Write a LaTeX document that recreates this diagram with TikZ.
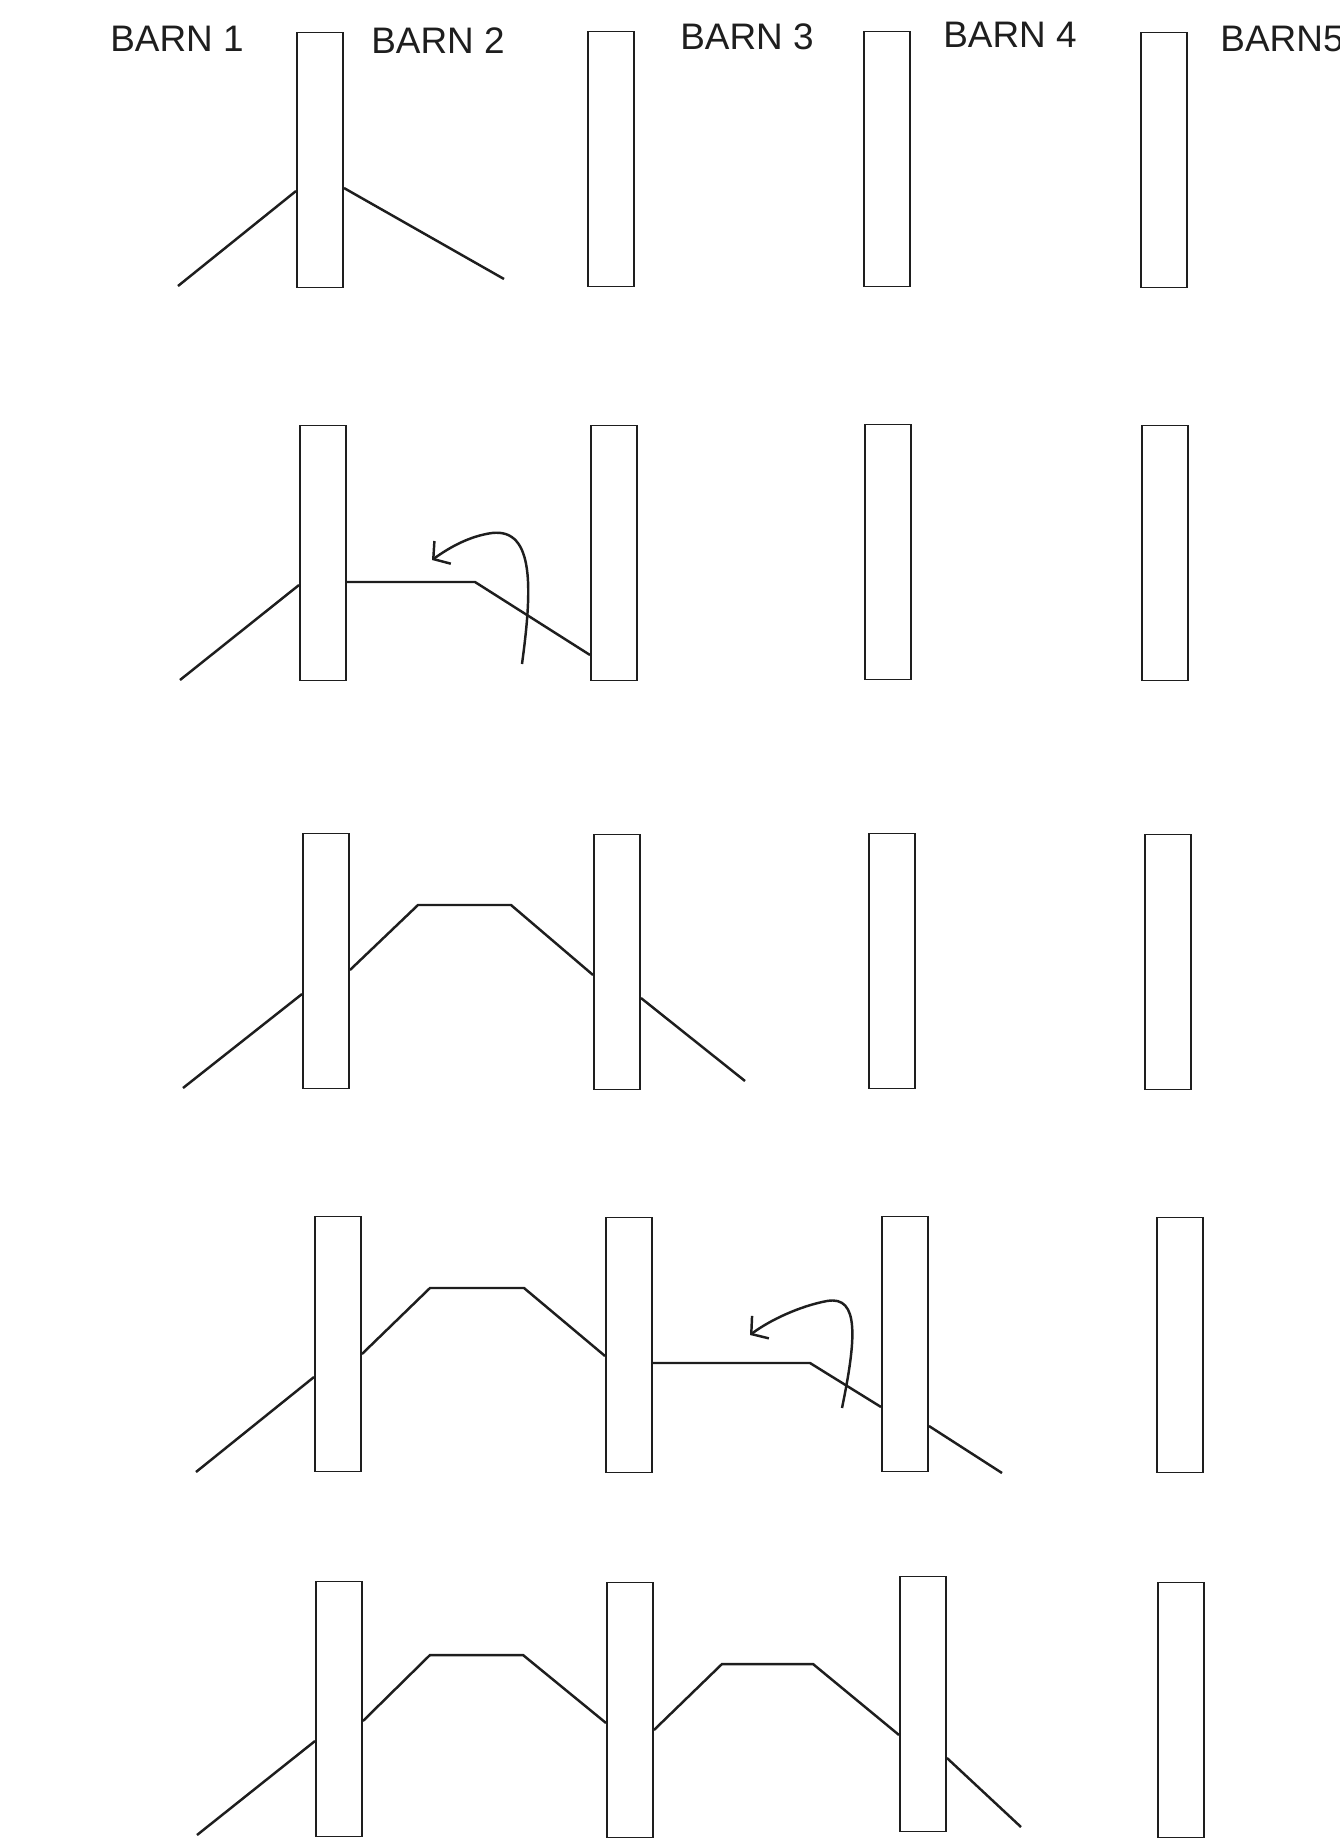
\documentclass[tikz,border=0pt]{standalone}
\usepackage{fontspec}
\setmainfont{Liberation Sans}
\usetikzlibrary{arrows.meta}
\definecolor{ink}{HTML}{1E1E1E}
\tikzset{
  >={Straight Barb[length=2.3mm,width=5.6mm]},
  every node/.style={text=ink},
  pillar/.style={draw=ink,line width=1.1pt,minimum width=9.2mm,minimum height=51mm,inner sep=0pt},
  barn/.style={font=\fontsize{21}{24}\selectfont,inner sep=0pt},
  rope/.style={draw=ink,line width=1.4pt},
  turn/.style={->,draw=ink,line width=1.4pt},
}

\begin{document}
\begin{tikzpicture}[x=0.2mm,y=-0.2mm]
  \useasboundingbox (0,0) rectangle (1340,1848);

  \node[barn] (lab1) at (177,39) {BARN 1};
  \node[barn] (lab2) at (438,41) {BARN 2};
  \node[barn] (lab3) at (747,37) {BARN 3};
  \node[barn] (lab4) at (1010,35) {BARN 4};
  \node[barn] (lab5) at (1282,39) {BARN5};

  \node[pillar] (a1) at (320,160) {};
  \node[pillar] (a2) at (611,159) {};
  \node[pillar] (a3) at (887,159) {};
  \node[pillar] (a4) at (1164,160) {};
  \coordinate (a1l) at (178,286);
  \coordinate (a1r) at (504,279);
  \draw[rope] (a1l) -- (a1.west |- 0,191);
  \draw[rope] (a1.east |- 0,188) -- (a1r);

  \node[pillar] (b1) at (323,553) {};
  \node[pillar] (b2) at (614,553) {};
  \node[pillar] (b3) at (888,552) {};
  \node[pillar] (b4) at (1165,553) {};
  \coordinate (b1l) at (180,680);
  \coordinate (b1k) at (475,582);
  \draw[rope] (b1l) -- (b1.west |- 0,585);
  \draw[rope] (b1.east |- 0,582) -- (b1k) -- (b2.west |- 0,655);
  \coordinate (bfrom) at (522,664);
  \coordinate (bto) at (432,560);
  \draw[turn] (bfrom) .. controls (532,590) and (535,528) .. (492,533) .. controls (470,536) and (450,547) .. (bto);

  \node[pillar] (c1) at (326,961) {};
  \node[pillar] (c2) at (617,962) {};
  \node[pillar] (c3) at (892,961) {};
  \node[pillar] (c4) at (1168,962) {};
  \coordinate (c1l) at (183,1088);
  \coordinate (c1k) at (418,905);
  \coordinate (c2k) at (511,905);
  \coordinate (c2r) at (745,1081);
  \draw[rope] (c1l) -- (c1.west |- 0,994);
  \draw[rope] (c1.east |- 0,970) -- (c1k) -- (c2k) -- (c2.west |- 0,975);
  \draw[rope] (c2.east |- 0,998) -- (c2r);

  \node[pillar] (d1) at (338,1344) {};
  \node[pillar] (d2) at (629,1345) {};
  \node[pillar] (d3) at (905,1344) {};
  \node[pillar] (d4) at (1180,1345) {};
  \coordinate (d1l) at (196,1472);
  \coordinate (d1k) at (430,1288);
  \coordinate (d2k) at (524,1288);
  \coordinate (d3k) at (810,1363);
  \coordinate (d3r) at (1002,1473);
  \draw[rope] (d1l) -- (d1.west |- 0,1377);
  \draw[rope] (d1.east |- 0,1354) -- (d1k) -- (d2k) -- (d2.west |- 0,1356);
  \draw[rope] (d2.east |- 0,1363) -- (d3k) -- (d3.west |- 0,1407);
  \draw[rope] (d3.east |- 0,1426) -- (d3r);
  \coordinate (dfrom) at (842,1408);
  \coordinate (dto) at (750,1335);
  \draw[turn] (dfrom) .. controls (856,1340) and (860,1295) .. (827,1301) .. controls (800,1306) and (770,1320) .. (dto);

  \node[pillar] (e1) at (339,1709) {};
  \node[pillar] (e2) at (630,1710) {};
  \node[pillar] (e3) at (923,1704) {};
  \node[pillar] (e4) at (1181,1710) {};
  \coordinate (e1l) at (197,1835);
  \coordinate (e1k) at (430,1655);
  \coordinate (e2k) at (523,1655);
  \coordinate (e2a) at (722,1664);
  \coordinate (e2b) at (813,1664);
  \coordinate (e3r) at (1021,1827);
  \draw[rope] (e1l) -- (e1.west |- 0,1741);
  \draw[rope] (e1.east |- 0,1721) -- (e1k) -- (e2k) -- (e2.west |- 0,1723);
  \draw[rope] (e2.east |- 0,1730) -- (e2a) -- (e2b) -- (e3.west |- 0,1735);
  \draw[rope] (e3.east |- 0,1758) -- (e3r);
\end{tikzpicture}
\end{document}
